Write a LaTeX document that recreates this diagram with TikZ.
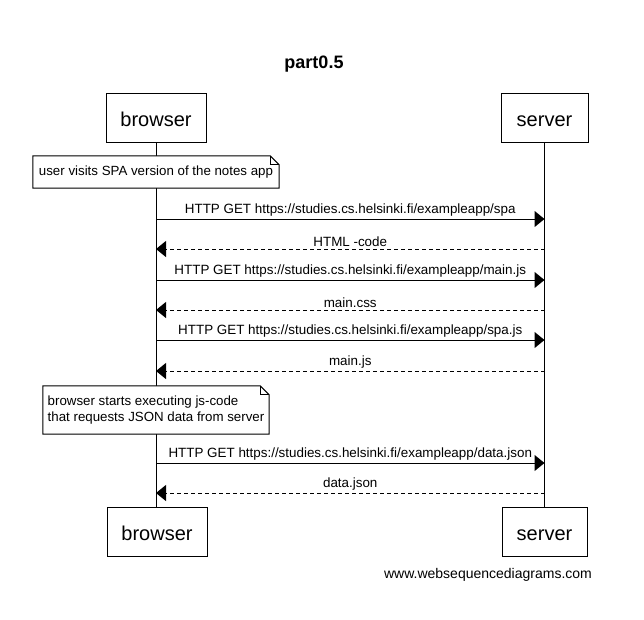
\documentclass[tikz,border=0pt]{standalone}
\usepackage{fontspec}
\setmainfont{Liberation Sans}
\usetikzlibrary{arrows.meta,backgrounds}
\begin{document}
\begin{tikzpicture}[x=1pt,y=-1pt,
  actor/.style={draw,line width=1pt,fill=white,minimum height=49pt,inner sep=0pt,text height=17pt,text depth=0pt,font=\fontsize{20}{24}\selectfont},
  notebox/.style={inner sep=0pt,align=left,font=\fontsize{13.3}{16}\selectfont},
  msg/.style={line width=1pt,-{Triangle[length=10pt,width=16pt]}},
  reply/.style={msg,dash pattern=on 4pt off 3pt},
  lbl/.style={font=\fontsize{13.4}{16}\selectfont,inner sep=2pt}]
\useasboundingbox (0,0) rectangle (644,619);
\node[font=\bfseries\fontsize{18}{22}\selectfont] (title) at (314,64) {part0.5};
\node[actor,minimum width=100pt] (bt) at (156,117.5) {browser};
\node[actor,minimum width=87pt] (st) at (544.5,117.5) {server};
\node[actor,minimum width=100pt] (bb) at (157,531.5) {browser};
\node[actor,minimum width=85pt] (sb) at (544.5,531.5) {server};
\node[notebox,minimum width=246pt,minimum height=32pt,align=center] (n1) at (156,172) {user visits SPA version of the notes app};
\node[notebox,minimum width=226pt,minimum height=48pt] (n2) at (156,410) {browser starts executing js-code\\that requests JSON data from server};
\begin{pgfonlayer}{background}
\draw[line width=1pt] (bt.south) -- (bt.south |- bb.north);
\draw[line width=1pt] (st.south) -- (st.south |- sb.north);
\foreach \n in {n1,n2}{
  \draw[line width=1pt,fill=white] (\n.north west) -- ([xshift=-9pt]\n.north east) -- ([yshift=-9pt]\n.north east) -- (\n.south east) -- (\n.south west) -- cycle;
  \draw[line width=0.8pt] ([xshift=-9pt]\n.north east) -- ([xshift=-9pt,yshift=-9pt]\n.north east) -- ([yshift=-9pt]\n.north east);
}
\end{pgfonlayer}
\foreach \i/\y in {1/219,2/249,3/280,4/310,5/340,6/371,7/463,8/493}{
  \coordinate (b\i) at (bt.south |- 0,\y);
  \coordinate (s\i) at (st.south |- 0,\y);
}
\draw[msg] (b1) -- node[lbl,above] {HTTP GET https://studies.cs.helsinki.fi/exampleapp/spa} (s1);
\draw[reply] (s2) -- node[lbl,above] {HTML -code} (b2);
\draw[msg] (b3) -- node[lbl,above] {HTTP GET https://studies.cs.helsinki.fi/exampleapp/main.js} (s3);
\draw[reply] (s4) -- node[lbl,above] {main.css} (b4);
\draw[msg] (b5) -- node[lbl,above] {HTTP GET https://studies.cs.helsinki.fi/exampleapp/spa.js} (s5);
\draw[reply] (s6) -- node[lbl,above] {main.js} (b6);
\draw[msg] (b7) -- node[lbl,above] {HTTP GET https://studies.cs.helsinki.fi/exampleapp/data.json} (s7);
\draw[reply] (s8) -- node[lbl,above] {data.json} (b8);
\node[font=\fontsize{14}{17}\selectfont] (foot) at (488,575) {www.websequencediagrams.com};
\end{tikzpicture}
\end{document}
